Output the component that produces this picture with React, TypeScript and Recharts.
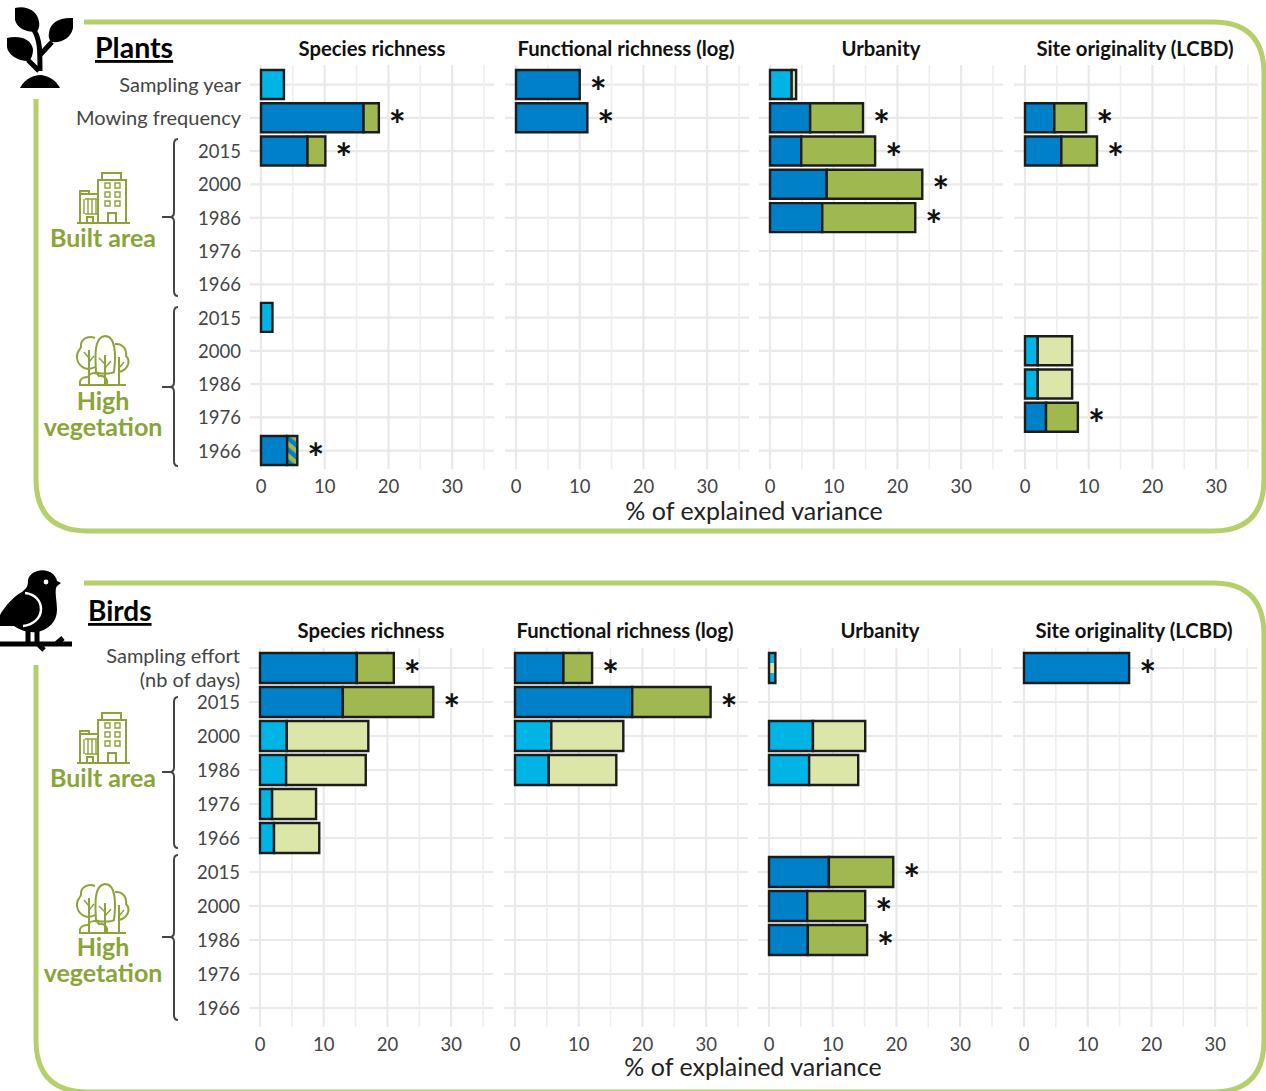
import React from 'react';
import { BarChart, Bar, Cell, XAxis, YAxis, CartesianGrid, ReferenceDot } from 'recharts';

const FONT = 'Lato, "Open Sans", sans-serif';

// Row labels
const plantTicks = ['Sampling year', 'Mowing frequency', '2015', '2000', '1986', '1976', '1966', '2015', '2000', '1986', '1976', '1966'];
const birdTicks = ['Sampling effort\n(nb of days)', '2015', '2000', '1986', '1976', '1966', '2015', '2000', '1986', '1976', '1966'];

// S = significant, N = not significant, H = second part is shared (striped)
const plantSpeciesBlue = [3.6, 16.1, 7.3, null, null, null, null, 1.8, null, null, null, 4.1];
const plantSpeciesGreen = [null, 2.4, 2.8, null, null, null, null, null, null, null, null, 1.6];
const plantSpeciesKind = ['N', 'S', 'S', '', '', '', '', 'N', '', '', '', 'SH'];

const plantFunctionalBlue = [10.0, 11.2, null, null, null, null, null, null, null, null, null, null];
const plantFunctionalGreen = [null, null, null, null, null, null, null, null, null, null, null, null];
const plantFunctionalKind = ['S', 'S', '', '', '', '', '', '', '', '', '', ''];

const plantUrbanityBlue = [3.4, 6.3, 4.9, 8.9, 8.2, null, null, null, null, null, null, null];
const plantUrbanityGreen = [0.7, 8.3, 11.6, 15.0, 14.6, null, null, null, null, null, null, null];
const plantUrbanityKind = ['N', 'S', 'S', 'S', 'S', '', '', '', '', '', '', ''];

const plantSiteBlue = [null, 4.6, 5.7, null, null, null, null, null, 2.0, 2.0, 3.3, null];
const plantSiteGreen = [null, 5.0, 5.6, null, null, null, null, null, 5.4, 5.4, 5.0, null];
const plantSiteKind = ['', 'S', 'S', '', '', '', '', '', 'N', 'N', 'S', ''];

const birdSpeciesBlue = [15.2, 13.0, 4.2, 4.1, 1.9, 2.2, null, null, null, null, null];
const birdSpeciesGreen = [5.8, 14.2, 12.8, 12.5, 6.9, 7.1, null, null, null, null, null];
const birdSpeciesKind = ['S', 'S', 'N', 'N', 'N', 'N', '', '', '', '', ''];

const birdFunctionalBlue = [7.6, 18.4, 5.7, 5.3, null, null, null, null, null, null, null];
const birdFunctionalGreen = [4.5, 12.3, 11.3, 10.6, null, null, null, null, null, null, null];
const birdFunctionalKind = ['S', 'S', 'N', 'N', '', '', '', '', '', '', ''];

const birdUrbanityBlue = [null, null, 6.9, 6.3, null, null, 9.4, 6.0, 6.1, null, null];
const birdUrbanityGreen = [1.0, null, 8.2, 7.7, null, null, 10.1, 9.1, 9.3, null, null];
const birdUrbanityKind = ['NH', '', 'N', 'N', '', '', 'S', 'S', 'S', '', ''];

const birdSiteBlue = [16.5, null, null, null, null, null, null, null, null, null, null];
const birdSiteGreen = [null, null, null, null, null, null, null, null, null, null, null];
const birdSiteKind = ['S', '', '', '', '', '', '', '', '', '', ''];

const xTicks = [0, 5, 10, 15, 20, 25, 30, 35];
const panelTitles = ['Species richness', 'Functional richness (log)', 'Urbanity', 'Site originality (LCBD)'];

const DARK_BLUE = '#0080c8';
const LIGHT_BLUE = '#00b4e6';
const DARK_GREEN = '#9fb84f';
const PALE_GREEN = '#dce6a9';
const FRAME = '#b5d06b';
const LABEL_GREEN = '#8aa438';
const TICK_GREY = '#444';

const blueFill = (kind: string) => (kind.startsWith('S') ? DARK_BLUE : LIGHT_BLUE);
const greenFill = (kind: string) => {
  if (kind === 'SH') return 'url(#hatchDark)';
  if (kind === 'NH') return 'url(#hatchLight)';
  return kind.startsWith('S') ? DARK_GREEN : PALE_GREEN;
};

const Star = (props: any) => (
  <text x={props.cx + 18.5} y={props.cy + 22} textAnchor="middle" fontFamily={FONT} fontWeight={700} fontSize={40} fill="#111">
    *
  </text>
);

const RowTick = (props: any) => {
  const { x, y, payload, labels } = props;
  const label = String(labels[payload.value]);
  const lines = label.split('\n');
  const size = /^\d+$/.test(label) ? 18.5 : 20;
  return (
    <g>
      {lines.map((line: string, i: number) => (
        <text key={i} x={x - 3} y={lines.length > 1 ? y - 5 + i * 24 : y + 7} textAnchor="end" fontFamily={FONT} fontSize={size} fill={TICK_GREY}>
          {line}
        </text>
      ))}
    </g>
  );
};

interface PanelProps {
  left: number;
  top: number;
  plotHeight: number;
  barSize: number;
  labels: string[];
  blue: (number | null)[];
  green: (number | null)[];
  kinds: string[];
  showLabels?: boolean;
}

const Y_WIDTH = 240;
const HEAD = 10; // room above the plot for the first row label
const PAD_TOP = 3;
const PAD_BOTTOM = 2;

const Panel: React.FC<PanelProps> = ({ left, top, plotHeight, barSize, labels, blue, green, kinds, showLabels }) => {
  const data = labels.map((_l, i) => ({ row: i, blue: blue[i] ?? 0, green: green[i] ?? 0 }));
  const starred = data.filter((d) => kinds[d.row].startsWith('S'));
  const yWidth = showLabels ? Y_WIDTH : 0;
  // horizontal grid goes through the middle of each row band
  const band = (plotHeight - PAD_TOP - PAD_BOTTOM) / labels.length;
  const rowLines = () => labels.map((_l, i) => HEAD + PAD_TOP + band * (i + 0.5));
  return (
    <div style={{ position: 'absolute', left: left - yWidth, top: top - HEAD }}>
      <BarChart
        width={244 + yWidth}
        height={plotHeight + 37 + HEAD}
        data={data}
        layout="vertical"
        margin={{ top: HEAD, right: 0, bottom: 0, left: 0 }}
        barCategoryGap={0}
      >
        <CartesianGrid
          syncWithTicks
          stroke="#e9e9e9"
          strokeWidth={2.2}
          verticalValues={[0, 10, 20, 30]}
          horizontalCoordinatesGenerator={rowLines}
        />
        <CartesianGrid syncWithTicks horizontal={false} stroke="#eeeeee" strokeWidth={1.6} verticalValues={[5, 15, 25, 35]} />
        <XAxis
          type="number"
          domain={[0, 35]}
          ticks={xTicks}
          interval={0}
          padding={{ left: 11, right: 10 }}
          axisLine={false}
          tickLine={false}
          height={37}
          tickMargin={5}
          tick={{ fontFamily: FONT, fontSize: 18.5, fill: TICK_GREY }}
          tickFormatter={(v: number) => (v % 10 === 0 && v < 35 ? String(v) : '')}
        />
        <YAxis
          type="category"
          dataKey="row"
          width={yWidth}
          interval={0}
          padding={{ top: PAD_TOP, bottom: PAD_BOTTOM }}
          axisLine={false}
          tickLine={false}
          tickMargin={0}
          tick={showLabels ? <RowTick labels={labels} /> : false}
        />
        <Bar dataKey="blue" stackId="a" barSize={barSize} stroke="#1c1c1c" strokeWidth={2.4} isAnimationActive={false}>
          {kinds.map((k, i) => (
            <Cell key={`blue-${i}`} fill={blueFill(k)} />
          ))}
        </Bar>
        <Bar dataKey="green" stackId="a" barSize={barSize} stroke="#1c1c1c" strokeWidth={2.4} isAnimationActive={false}>
          {kinds.map((k, i) => (
            <Cell key={`green-${i}`} fill={greenFill(k)} />
          ))}
        </Bar>
        {starred.map((d) => (
          <ReferenceDot key={d.row} x={d.blue + d.green} y={d.row} r={0} shape={Star} ifOverflow="visible" />
        ))}
      </BarChart>
    </div>
  );
};

const framePath = (top: number, bottom: number, leftStart: number) =>
  `M84 ${top} H1213 Q1264 ${top} 1264 ${top + 52} V${bottom - 52} Q1264 ${bottom} 1213 ${bottom} H88 Q36 ${bottom} 36 ${bottom - 52} V${leftStart}`;

const bracePath = (y0: number, y1: number, mid: number) =>
  `M178 ${y0} Q174 ${y0} 174 ${y0 + 5} V${mid - 5} Q174 ${mid} 170 ${mid} H162 M170 ${mid} Q174 ${mid} 174 ${mid + 5} V${y1 - 5} Q174 ${y1} 178 ${y1}`;

const BuildingIcon = ({ dy }: { dy: number }) => (
  <g transform={`translate(0 ${dy})`} fill="none" stroke={LABEL_GREEN} strokeWidth={2}>
    <path d="M77 223 H130 M98 223 V180 H126 V223 M102 180 V173 H121 V180 M80 223 V194 H98 M80 194 V191 H89 V194" />
    <path d="M84 199 V214 M88 199 V214 M92 199 V214 M96 199 V214 M85 199 H97 M85 214 H97" strokeWidth={1.4} />
    <path d="M105 183 h5 v5 h-5 z M115 183 h5 v5 h-5 z M105 192 h5 v5 h-5 z M115 192 h5 v5 h-5 z M105 201 h5 v5 h-5 z M115 201 h5 v5 h-5 z" strokeWidth={1.4} />
    <path d="M108 223 V213 H116 V223 M87 223 V217 H93 V223" />
  </g>
);

const TreeIcon = ({ dy }: { dy: number }) => (
  <g transform={`translate(0 ${dy})`} fill="none" stroke={LABEL_GREEN} strokeWidth={2}>
    <path d="M79 385 H126 M89 384 V350 M105 384 V355 M119 384 V357" />
    <path d="M89 358 L84 352 M89 362 L94 356 M105 364 L99 358 M105 368 L111 361 M119 368 L124 362" strokeWidth={1.5} />
    <path d="M96 372 C95 356 94 337 105 336 C116 336 116 356 114 372 C112 374 98 374 96 372 Z" />
    <path d="M95 367 C86 372 78 366 77 358 C76 352 80 350 81 347 C80 340 87 335 95 338" />
    <path d="M115 344 C123 343 127 350 126 356 C131 361 128 370 119 372" />
    <path d="M80 384 C79 378 85 377 88 377 C90 372 97 372 99 376 C104 375 108 379 107 384" />
  </g>
);

const PlantIcon = () => (
  <g fill="#000">
    <path d="M15 8 C25 5 38 10 39 22 C40 27 38 31 36 32 C25 32 17 28 15 20 Z" />
    <path d="M73 18 C60 17 50 22 49 33 C48 38 50 41 52 42 C62 43 71 38 73 28 Z" />
    <path d="M7 38 C18 35 31 38 33 49 C33 55 31 60 28 61 C18 61 8 55 7 47 Z" />
    <path d="M20 88 C25 78 35 75 40 75 C47 75 56 80 60 88 Z" />
    <path d="M34 30 C40 40 40 50 40 71 M40 55 L52 42 M28 60 L39 71" fill="none" stroke="#000" strokeWidth={5} />
  </g>
);

const BirdIcon = () => (
  <g fill="#000">
    <path d="M22 592 C27 588 28 586 28 580 C30 570 45 567 53 574 C56 577 57 580 57 581 L61 583 L57 586 C54 590 57 600 57 610 C57 622 48 630 37 632 C28 633 20 630 14 626 L0 626 L0 615 C5 606 14 596 22 592 Z" />
    <path d="M25 593 C36 594 41 602 41 609 C41 619 32 625 23 626" fill="none" stroke="#fff" strokeWidth={2.5} />
    <circle cx={46} cy={582} r={2.4} fill="#fff" />
    <path d="M0 644 H72 M28 630 V644 M37 630 V644 M38 644 L44 650 M56 644 L63 638" fill="none" stroke="#000" strokeWidth={5} />
  </g>
);

const Overlay = () => (
  <svg width={1266} height={1091} style={{ position: 'absolute', left: 0, top: 0 }}>
    <defs>
      <pattern id="hatchDark" width={9} height={9} patternUnits="userSpaceOnUse" patternTransform="rotate(40)">
        <rect width={9} height={9} fill={DARK_BLUE} />
        <rect width={9} height={4.5} fill={DARK_GREEN} />
      </pattern>
      <pattern id="hatchLight" width={8} height={40} patternUnits="userSpaceOnUse">
        <rect width={8} height={40} fill={LIGHT_BLUE} />
        <rect y={25} width={8} height={10} fill={PALE_GREEN} />
      </pattern>
    </defs>

    <path d={framePath(22, 531, 99)} fill="none" stroke={FRAME} strokeWidth={5} />
    <path d={framePath(583, 1092, 665)} fill="none" stroke={FRAME} strokeWidth={5} />

    <PlantIcon />
    <BirdIcon />
    <BuildingIcon dy={0} />
    <BuildingIcon dy={540} />
    <TreeIcon dy={0} />
    <TreeIcon dy={548} />

    <g fill="none" stroke="#444" strokeWidth={2}>
      <path d={bracePath(139, 296, 217)} />
      <path d={bracePath(307, 466, 387)} />
      <path d={bracePath(697, 848, 772)} />
      <path d={bracePath(855, 1020, 937)} />
    </g>

    <g fontFamily={FONT} fontWeight={700} fill="#000">
      <text x={95} y={58} fontSize={28.5} textDecoration="underline">Plants</text>
      <text x={88} y={621} fontSize={28} textDecoration="underline">Birds</text>
    </g>

    <g fontFamily={FONT} fontWeight={700} fill="#111" fontSize={20.3} textAnchor="middle">
      {panelTitles.map((t, i) => (
        <text key={`p-${t}`} x={[372, 626, 881, 1135][i]} y={56}>{t}</text>
      ))}
      {panelTitles.map((t, i) => (
        <text key={`b-${t}`} x={[371, 625, 880, 1134][i]} y={638}>{t}</text>
      ))}
    </g>

    <g fontFamily={FONT} fontWeight={700} fill={LABEL_GREEN} fontSize={25} textAnchor="middle">
      <text x={103} y={247}>Built area</text>
      <text x={103} y={410}>High</text>
      <text x={103} y={436}>vegetation</text>
      <text x={103} y={787}>Built area</text>
      <text x={103} y={956}>High</text>
      <text x={103} y={982}>vegetation</text>
    </g>

    <g fontFamily={FONT} fill="#222" fontSize={25} textAnchor="middle">
      <text x={754} y={520}>% of explained variance</text>
      <text x={753} y={1076}>% of explained variance</text>
    </g>
  </svg>
);

const plantPanels = [
  { left: 250, blue: plantSpeciesBlue, green: plantSpeciesGreen, kinds: plantSpeciesKind, showLabels: true },
  { left: 505, blue: plantFunctionalBlue, green: plantFunctionalGreen, kinds: plantFunctionalKind },
  { left: 759, blue: plantUrbanityBlue, green: plantUrbanityGreen, kinds: plantUrbanityKind },
  { left: 1014, blue: plantSiteBlue, green: plantSiteGreen, kinds: plantSiteKind },
];

const birdPanels = [
  { left: 249, blue: birdSpeciesBlue, green: birdSpeciesGreen, kinds: birdSpeciesKind, showLabels: true },
  { left: 503.5, blue: birdFunctionalBlue, green: birdFunctionalGreen, kinds: birdFunctionalKind },
  { left: 758, blue: birdUrbanityBlue, green: birdUrbanityGreen, kinds: birdUrbanityKind },
  { left: 1013, blue: birdSiteBlue, green: birdSiteGreen, kinds: birdSiteKind },
];

export default function App() {
  return (
    <div style={{ position: 'absolute', left: 0, top: 0, width: 1266, height: 1091, overflow: 'hidden', background: '#fff' }}>
      <Overlay />
      {plantPanels.map((p) => (
        <Panel key={`plants-${p.left}`} {...p} top={65.4} plotHeight={404.3} barSize={29} labels={plantTicks} />
      ))}
      {birdPanels.map((p) => (
        <Panel key={`birds-${p.left}`} {...p} top={648} plotHeight={379} barSize={30} labels={birdTicks} />
      ))}
    </div>
  );
}
